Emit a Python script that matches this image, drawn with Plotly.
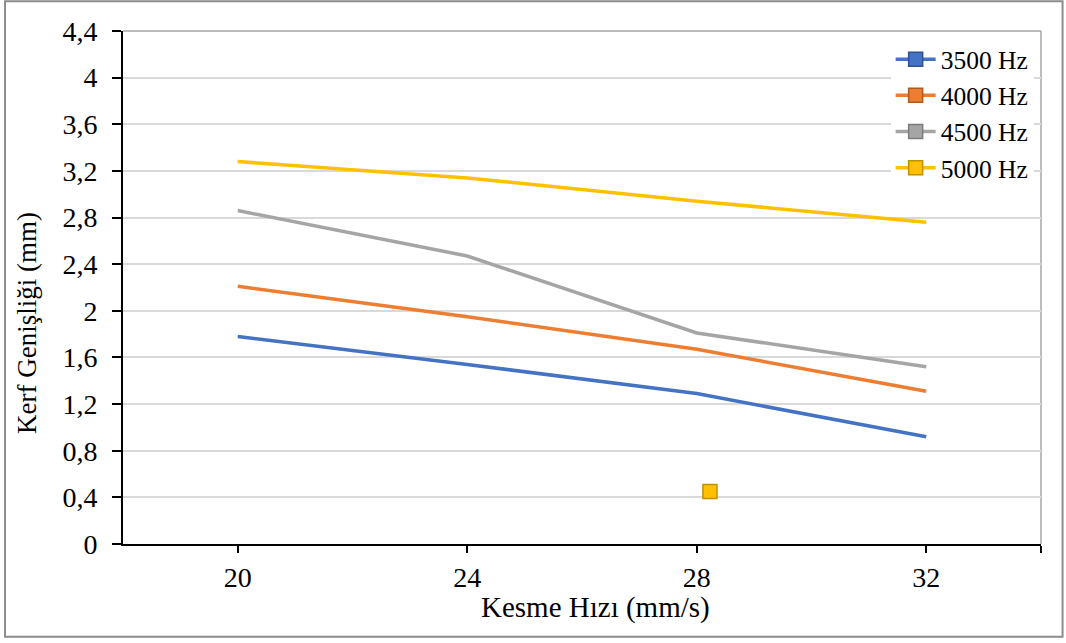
import plotly.graph_objects as go

speeds = [20, 24, 28, 32]
series_names = ["3500 Hz", "4000 Hz", "4500 Hz", "5000 Hz"]
kerf_3500 = [1.78, 1.54, 1.29, 0.92]
kerf_4000 = [2.21, 1.95, 1.67, 1.31]
kerf_4500 = [2.86, 2.47, 1.81, 1.52]
kerf_5000 = [3.28, 3.14, 2.94, 2.76]
colors = ["#4472C4", "#ED7D31", "#A5A5A5", "#FFC000"]
edge_colors = ["#2F528F", "#AE5A21", "#7B7B7B", "#BF9000"]

# stray marker artefact visible in the original picture
stray_x = [28.23]
stray_y = [0.45]
stray_series = [3]

y_tickvals = [0, 0.4, 0.8, 1.2, 1.6, 2, 2.4, 2.8, 3.2, 3.6, 4, 4.4]
y_ticktext = ["0", "0,4", "0,8", "1,2", "1,6", "2", "2,4", "2,8", "3,2", "3,6", "4", "4,4"]
x_tickvals = [20, 24, 28, 32, 34]
x_ticktext = ["20", "24", "28", "32", ""]

FONT = "Liberation Serif"

fig = go.Figure()
all_series = [kerf_3500, kerf_4000, kerf_4500, kerf_5000]
for name, vals, c in zip(series_names, all_series, colors):
    fig.add_trace(go.Scatter(x=speeds, y=vals, mode="lines", name=name,
                             line=dict(color=c, width=3.5), showlegend=False,
                             legendgroup=name))
for name, c, ec in zip(series_names, colors, edge_colors):
    fig.add_trace(go.Scatter(x=[None], y=[None], mode="lines+markers", name=name,
                             line=dict(color=c, width=3.5), legendgroup=name,
                             marker=dict(symbol="square", size=14, color=c,
                                         line=dict(color=ec, width=1.5))))
for sx, sy, si in zip(stray_x, stray_y, stray_series):
    fig.add_trace(go.Scatter(x=[sx], y=[sy], mode="markers", showlegend=False,
                             cliponaxis=False,
                             marker=dict(symbol="square", size=14, color=colors[si],
                                         line=dict(color=edge_colors[si], width=1.5))))

fig.update_layout(
    width=1066, height=643,
    margin=dict(l=123, r=25, t=31, b=99),
    paper_bgcolor="white", plot_bgcolor="white",
    font=dict(family=FONT, size=27, color="black"),
    showlegend=True,
    legend=dict(x=0.992, xanchor="right", y=0.99, yanchor="top",
                bgcolor="white", font=dict(family=FONT, size=25.5, color="black"),
                itemwidth=40, tracegroupgap=0),
    xaxis=dict(range=[18, 34], tickvals=x_tickvals, ticktext=x_ticktext,
               tickfont=dict(family=FONT, size=28),
               showgrid=False, zeroline=False, showline=True, linecolor="black",
               linewidth=2, ticks="outside", ticklen=7, tickwidth=2, tickcolor="black",
               ticklabelstandoff=0),
    yaxis=dict(range=[0, 4.4], tickvals=y_tickvals, ticktext=y_ticktext,
               tickfont=dict(family=FONT, size=28),
               showgrid=True, gridcolor="#D9D9D9", gridwidth=1.5, zeroline=False,
               showline=True, linecolor="black", linewidth=2,
               ticks="outside", ticklen=9, tickwidth=2, tickcolor="black",
               ticklabelstandoff=9),
    annotations=[
        dict(text="Kesme Hızı (mm/s)", xref="paper", yref="paper", x=0.515, y=-0.123,
             xanchor="center", yanchor="middle", showarrow=False,
             font=dict(family=FONT, size=29, color="black")),
        dict(text="Kerf Genişliği (mm)", xref="paper", yref="paper", x=-0.104, y=0.43,
             xanchor="center", yanchor="middle", showarrow=False, textangle=-90,
             font=dict(family=FONT, size=27, color="black")),
    ],
    shapes=[
        dict(type="line", xref="paper", yref="paper", x0=0, x1=1, y0=1, y1=1,
             line=dict(color="#A6A6A6", width=1.5), layer="below"),
        dict(type="line", xref="paper", yref="paper", x0=1, x1=1, y0=0, y1=1,
             line=dict(color="#A6A6A6", width=1.5), layer="below"),
        dict(type="rect", xref="paper", yref="paper", x0=-0.1285, x1=1.0235,
             y0=-0.181, y1=1.058, line=dict(color="#8C8C8C", width=2),
             fillcolor="rgba(0,0,0,0)", layer="above"),
    ],
)

fig.write_html("out.html")
